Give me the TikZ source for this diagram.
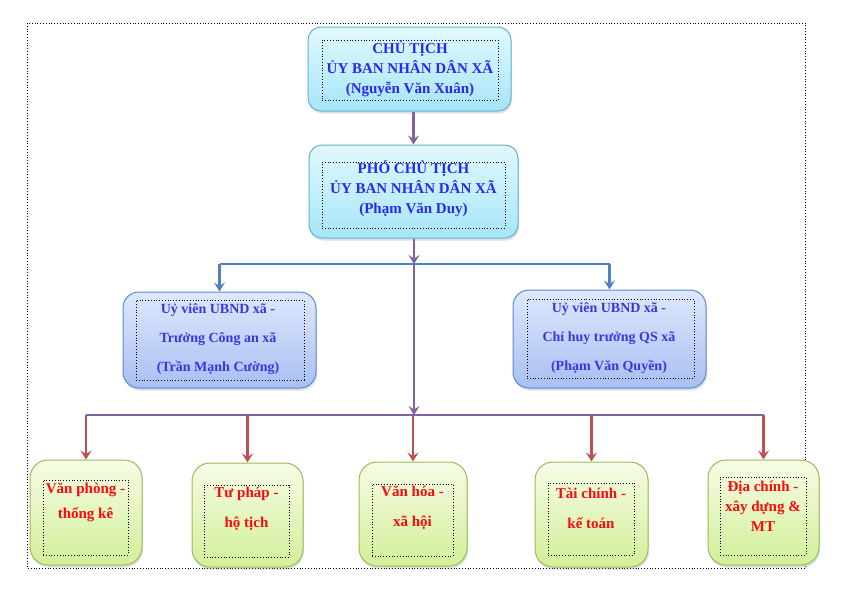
\documentclass[tikz,border=0pt]{standalone}
\usepackage{fontspec}
\setmainfont{Liberation Serif}
\usetikzlibrary{arrows.meta,shadows}
\definecolor{cyanTop}{HTML}{E2F9FE}
\definecolor{cyanBot}{HTML}{A6E5F8}
\definecolor{cyanLine}{HTML}{62B6D0}
\definecolor{periTop}{HTML}{DFE8FC}
\definecolor{periBot}{HTML}{A8BFF3}
\definecolor{periLine}{HTML}{5F88D4}
\definecolor{grnTop}{HTML}{F6FCE6}
\definecolor{grnBot}{HTML}{D2EF98}
\definecolor{grnLine}{HTML}{9BBB59}
\definecolor{purp}{HTML}{8064A2}
\definecolor{blu}{HTML}{4F81BD}
\definecolor{rd}{HTML}{C0504D}
\definecolor{txtA}{RGB}{40,40,245}
\definecolor{txtB}{RGB}{55,55,225}
\definecolor{txtC}{RGB}{250,10,10}
\tikzset{
  box/.style={draw, line width=1pt, anchor=center, inner sep=0pt,
    drop shadow={shadow xshift=1pt, shadow yshift=-2.5pt, opacity=0.25}},
  cyanbox/.style={box, draw=cyanLine, top color=cyanTop, bottom color=cyanBot, rounded corners=13pt},
  peribox/.style={box, draw=periLine, top color=periTop, bottom color=periBot, rounded corners=16pt},
  grnbox/.style={box, draw=grnLine, top color=grnTop, bottom color=grnBot, rounded corners=18pt},
  dotbox/.style={draw=black, dotted, line width=0.8pt, inner sep=0pt, anchor=center},
  txt/.style={align=center, inner sep=0pt, anchor=center, font=\bfseries},
  conn/.style={line width=2.6pt},
  tip/.style={-{Stealth[length=9pt,width=11pt,inset=3.5pt]}},
}
\begin{document}
\begin{tikzpicture}[x=1pt,y=-1pt]
\useasboundingbox (0,0) rectangle (847,600);
% outer dotted frame
\draw[dotted, line width=0.8pt] (27,23) rectangle (805,568);

% boxes
\node[cyanbox, minimum width=203pt, minimum height=84pt] (b1) at (409.5,69) {};
\node[dotbox, minimum width=176pt, minimum height=60pt] (d1) at (410,70) {};
\node[txt, text=txtA, font=\bfseries\fontsize{15}{20}\selectfont] (t1) at (410,68.5) {CHỦ TỊCH\\ỦY BAN NHÂN DÂN XÃ\\(Nguyễn Văn Xuân)};

\node[cyanbox, minimum width=209pt, minimum height=93pt] (b2) at (413.5,191.5) {};
\node[dotbox, minimum width=183pt, minimum height=66pt] (d2) at (413.5,195) {};
\node[txt, text=txtA, font=\bfseries\fontsize{15}{20}\selectfont] (t2) at (413.5,188.5) {PHÓ CHỦ TỊCH\\ỦY BAN NHÂN DÂN XÃ\\(Phạm Văn Duy)};

\node[peribox, minimum width=193pt, minimum height=96pt] (b3) at (219.5,340) {};
\node[dotbox, minimum width=168pt, minimum height=80pt] (d3) at (220,340) {};
\node[txt, text=txtB, font=\bfseries\fontsize{14}{29}\selectfont] (t3) at (218,339) {Uỷ viên UBND xã -\\Trưởng Công an xã\\(Trần Mạnh Cường)};

\node[peribox, minimum width=193pt, minimum height=98pt] (b4) at (609.5,339) {};
\node[dotbox, minimum width=167pt, minimum height=79pt] (d4) at (610.5,338.5) {};
\node[txt, text=txtB, font=\bfseries\fontsize{14}{29}\selectfont] (t4) at (609,338) {Uỷ viên UBND xã -\\Chỉ huy trưởng QS xã\\(Phạm Văn Quyền)};

\node[grnbox, minimum width=112pt, minimum height=105pt] (b5) at (86,512.5) {};
\node[dotbox, minimum width=85pt, minimum height=75pt] (d5) at (85.5,517.5) {};
\node[txt, text=txtC, font=\bfseries\fontsize{15}{25}\selectfont] (t5) at (85.5,502) {Văn phòng -\\thống kê};

\node[grnbox, minimum width=111pt, minimum height=104pt] (b6) at (247.5,515) {};
\node[dotbox, minimum width=85pt, minimum height=72pt] (d6) at (246.5,521) {};
\node[txt, text=txtC, font=\bfseries\fontsize{15}{30}\selectfont] (t6) at (246.5,508.5) {Tư pháp -\\hộ tịch};

\node[grnbox, minimum width=108pt, minimum height=104pt] (b7) at (413,514) {};
\node[dotbox, minimum width=81pt, minimum height=72pt] (d7) at (412.5,520) {};
\node[txt, text=txtC, font=\bfseries\fontsize{15}{30}\selectfont] (t7) at (412.5,507.5) {Văn hóa -\\xã hội};

\node[grnbox, minimum width=113pt, minimum height=105pt] (b8) at (591.5,514.5) {};
\node[dotbox, minimum width=86pt, minimum height=72pt] (d8) at (591,519) {};
\node[txt, text=txtC, font=\bfseries\fontsize{15}{30}\selectfont] (t8) at (591,508) {Tài chính -\\kế toán};

\node[grnbox, minimum width=111pt, minimum height=105pt] (b9) at (763.5,512.5) {};
\node[dotbox, minimum width=86pt, minimum height=78pt] (d9) at (763,516) {};
\node[txt, text=txtC, font=\bfseries\fontsize{15}{20}\selectfont] (t9) at (763,506.5) {Địa chính -\\xây dựng \&\\MT};

% junctions
\coordinate (j1) at (414,264);
\coordinate (j2) at (414,415);

% connectors
\draw[conn, purp, tip] (b2.north |- b1.south) -- (b2.north);
\draw[conn, blu] (b3.north |- j1) -- (b4.north |- j1);
\draw[conn, blu, tip] (b3.north |- j1) -- (b3.north);
\draw[conn, blu, tip] (b4.north |- j1) -- (b4.north);
\draw[conn, purp, tip] (j1 |- b2.south) -- (j1);
\draw[conn, purp, tip] (j1) -- (j2);
\draw[conn, rd, tip] (b5.north |- j2) -- (b5.north);
\draw[conn, rd, tip] (b6.north |- j2) -- (b6.north);
\draw[conn, rd, tip] (b7.north |- j2) -- (b7.north);
\draw[conn, rd, tip] (b8.north |- j2) -- (b8.north);
\draw[conn, rd, tip] (b9.north |- j2) -- (b9.north);
\draw[conn, purp] (b5.north |- j2) -- (b9.north |- j2);
\end{tikzpicture}
\end{document}
